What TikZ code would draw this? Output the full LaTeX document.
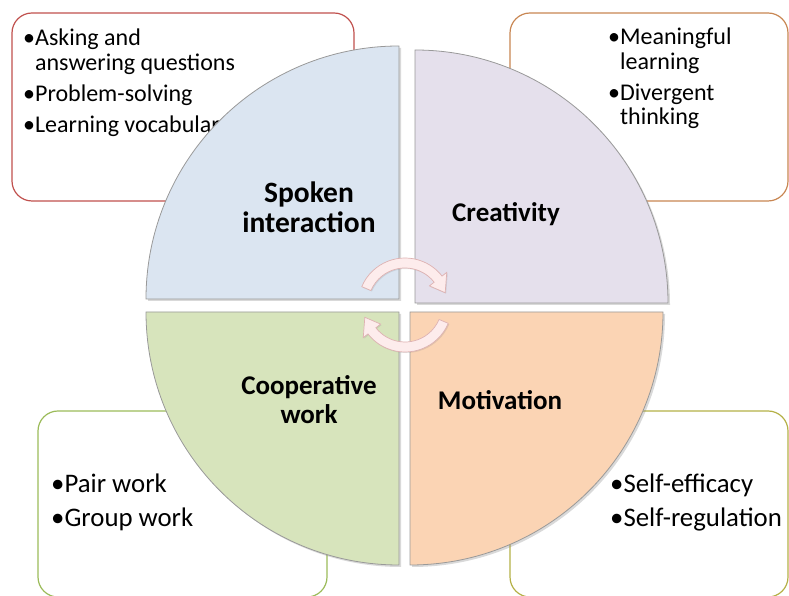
\documentclass[tikz,border=0pt]{standalone}
\usepackage{fontspec}
\setmainfont{Carlito}
\usetikzlibrary{shadows}
\definecolor{redline}{RGB}{192,80,77}
\definecolor{orangeline}{RGB}{200,134,82}
\definecolor{greenline}{RGB}{155,187,89}
\definecolor{oliveline}{RGB}{180,176,70}
\definecolor{bluefill}{RGB}{219,229,241}
\definecolor{purplefill}{RGB}{229,224,236}
\definecolor{greenfill}{RGB}{215,228,188}
\definecolor{orangefill}{RGB}{251,212,180}
\definecolor{arrowfill}{RGB}{253,236,236}
\definecolor{arrowline}{RGB}{222,178,178}

\begin{document}
\begin{tikzpicture}[x=1pt,y=1pt,
	box/.style={draw,line width=1.2pt,rounded corners=20pt},
	quad/.style={draw=gray!80,line width=0.8pt,drop shadow={shadow xshift=2pt,shadow yshift=-2pt,opacity=0.3}},
	bullets/.style={anchor=base west,inner sep=0pt,font=\fontsize{24}{24.5}\selectfont},
	bigbullets/.style={bullets,font=\fontsize{26.8}{27.5}\selectfont},
	title/.style={align=center,inner sep=0pt,font=\fontsize{27}{29}\selectfont\bfseries},
	cyclearrow/.style={fill=arrowfill,draw=arrowline,line width=0.7pt,drop shadow={shadow xshift=1pt,shadow yshift=-1pt,opacity=0.2}}]
	\useasboundingbox (0,0) rectangle (789,596);

	% boxes behind the circle
	\draw[box,draw=redline] (12,395) rectangle (354,583);
	\draw[box,draw=orangeline] (510,395) rectangle (788,583);
	\draw[box,draw=greenline] (38,-1) rectangle (327,185);
	\draw[box,draw=oliveline] (510,-1) rectangle (788,185);

	\node[bullets] (speaklist) at (23,550.3) {\begin{tabular}[t]{@{}l@{}l@{}}
		•&Asking and\\ &answering questions\\[6.5pt]
		•&Problem-solving\\[6.5pt]
		•&Learning vocabulary\end{tabular}};
	\node[bullets] (creativelist) at (608,551) {\begin{tabular}[t]{@{}l@{}l@{}}
		•&Meaningful\\ &learning\\[6.5pt]
		•&Divergent\\ &thinking\end{tabular}};
	\node[bigbullets] (coworklist) at (51,103) {\begin{tabular}[t]{@{}l@{}l@{}}
		•&Pair work\\[6.5pt]
		•&Group work\end{tabular}};
	\node[bigbullets] (motivelist) at (610,103) {\begin{tabular}[t]{@{}l@{}l@{}}
		•&Self-efficacy\\[6.5pt]
		•&Self-regulation\end{tabular}};

	% quadrants
	\filldraw[quad,fill=bluefill] (399,297) -- (146,297) arc[start angle=180,end angle=90,radius=253] -- cycle;
	\filldraw[quad,fill=purplefill] (415,293) -- (415,546) arc[start angle=90,end angle=0,radius=253] -- cycle;
	\filldraw[quad,fill=greenfill] (399,284) -- (146,284) arc[start angle=180,end angle=270,radius=253] -- cycle;
	\filldraw[quad,fill=orangefill] (410,284) -- (410,31) arc[start angle=270,end angle=360,radius=253] -- cycle;

	% cycle arrows
	\foreach \rot in {0,180}
	{
		\begin{scope}[shift={(405,291)},rotate=\rot]
			\filldraw[cyclearrow] (157:47) arc[start angle=157,end angle=38,radius=47]
				-- (38:53) -- (17:42) -- (38:31) -- (38:37)
				arc[start angle=38,end angle=157,radius=37] -- cycle;
		\end{scope}
	}

	\node[title,font=\fontsize{29.5}{30}\selectfont\bfseries] (spoken) at (309,388.3) {Spoken\\interaction};
	\node[title,anchor=base] (creativity) at (506,374) {Creativity};
	\node[title] (cowork) at (309,196.5) {Cooperative\\work};
	\node[title,anchor=base] (motivation) at (500,186) {Motivation};
\end{tikzpicture}
\end{document}
